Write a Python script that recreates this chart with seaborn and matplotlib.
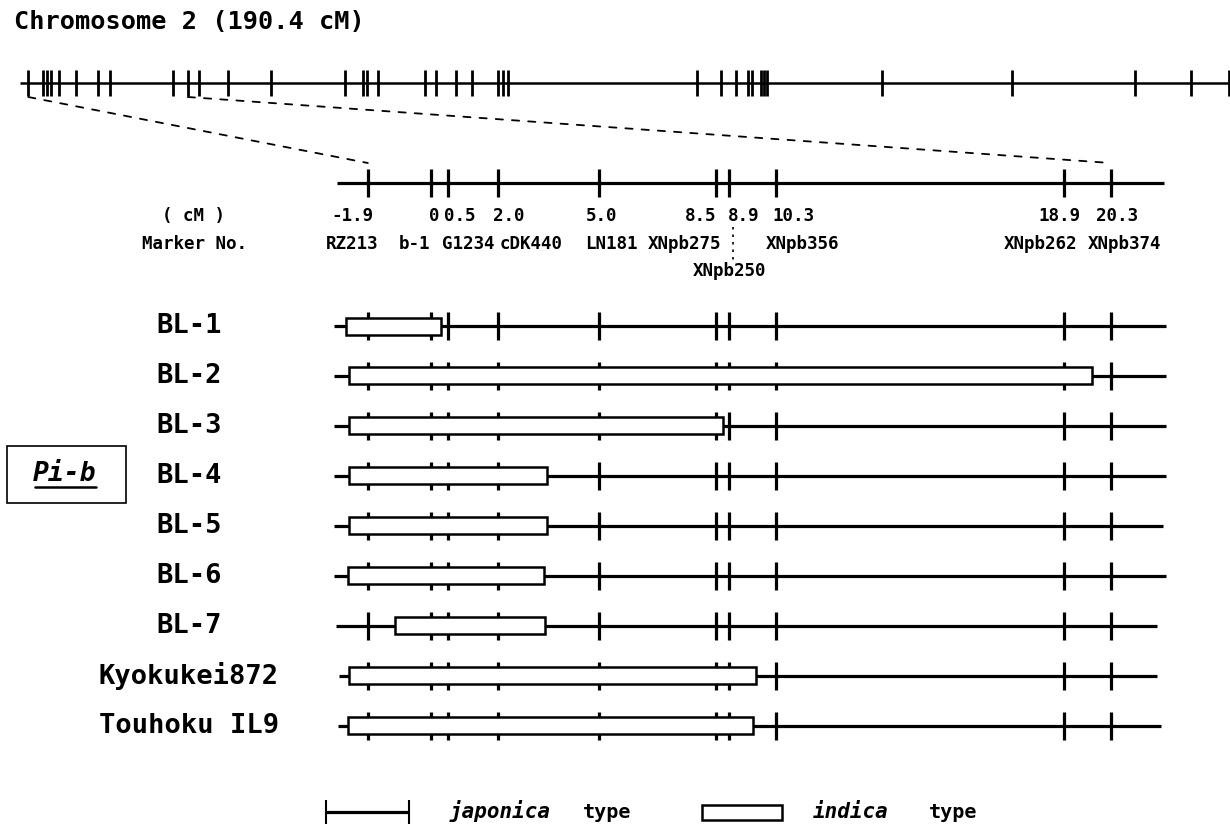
import matplotlib
matplotlib.use("Agg")
import matplotlib.pyplot as plt
from matplotlib.patches import Rectangle, ConnectionPatch
import seaborn as sns
import pandas as pd

# whole chromosome 2 (cM)
chrom_len = 190.4
chrom_markers = [1.3, 3.6, 4.3, 4.9, 6.1, 8.8, 12.3, 14.2, 24.1, 26.4, 28.2, 32.7, 39.5,
                 51.1, 54.0, 54.6, 56.3, 63.7, 65.5, 68.6, 71.1, 75.2, 76.0, 76.8,
                 106.5, 110.3, 112.7, 114.6, 115.2, 116.6, 117.1, 117.6,
                 135.6, 156.1, 175.5, 184.3, 190.2]

# enlarged region around Pi-b
marker_names = ["RZ213", "b-1", "G1234", "cDK440", "LN181", "XNpb275", "XNpb250",
                "XNpb356", "XNpb262", "XNpb374"]
marker_cm = [-1.9, 0, 0.5, 2.0, 5.0, 8.5, 8.9, 10.3, 18.9, 20.3]
cm_labels = ["-1.9", "0", "0.5", "2.0", "5.0", "8.5", "8.9", "10.3", "18.9", "20.3"]

# lines and their indica segments (cM)
lines = ["BL-1", "BL-2", "BL-3", "BL-4", "BL-5", "BL-6", "BL-7", "Kyokukei872", "Touhoku IL9"]
indica_start = [-2.55, -2.45, -2.45, -2.45, -2.45, -2.5, -1.1, -2.45, -2.5]
indica_end = [0.28, 19.75, 8.7, 3.45, 3.45, 3.37, 3.4, 9.7, 9.6]
line_start = [-2.9, -2.9, -2.9, -2.9, -2.9, -2.9, -2.85, -2.75, -2.8]
line_end = [21.95, 21.95, 21.95, 21.95, 21.85, 21.95, 21.7, 21.7, 21.8]

sns.set_theme(style="white")
plt.rcParams["font.family"] = ["DejaVu Sans Mono", "DejaVu Sans"]
plt.rcParams["font.weight"] = "bold"
plt.rcParams["text.color"] = "black"

W, H = 1230, 826
fig = plt.figure(figsize=(W / 100, H / 100), dpi=100)

# main axes: x in cM of the enlarged map, y in pixels from top
px0, pxcm = 431.4, 33.46
ax = fig.add_axes([0, 0, 1, 1])
ax.set_xlim(-px0 / pxcm, (W - px0) / pxcm)
ax.set_ylim(H, 0)
ax.axis("off")

# top axes: whole chromosome
ax_top = fig.add_axes([0, 0, 1, 1])
ax_top.set_xlim(-20 / 6.355, chrom_len)
ax_top.set_ylim(H, 0)
ax_top.axis("off")
ax_top.patch.set_alpha(0)

tx = ax.get_yaxis_transform()  # x axes fraction, y pixels

ax.text(14 / W, 22, "Chromosome 2 (190.4 cM)", transform=tx, fontsize=18.2,
        ha="left", va="center")

ax_top.hlines(83, 0, chrom_len, color="black", lw=1.8)
top_df = pd.DataFrame({"cM": chrom_markers, "y": 83})
sns.scatterplot(data=top_df, x="cM", y="y", marker="|", s=350, linewidth=2.0,
                color="black", ax=ax_top, legend=False, zorder=3)

# enlarged map
ax.hlines(183, -2.82, 21.9, color="black", lw=2.3)
map_df = pd.DataFrame({"cM": marker_cm, "y": 183})
sns.scatterplot(data=map_df, x="cM", y="y", marker="|", s=410, linewidth=2.3,
                color="black", ax=ax, legend=False, zorder=3)

for a_cm, b_cm in [(chrom_markers[0], marker_cm[0]), (chrom_markers[9], marker_cm[-1])]:
    con = ConnectionPatch(xyA=(a_cm, 97), coordsA=ax_top.transData,
                          xyB=(b_cm, 163), coordsB=ax.transData,
                          linestyle=(0, (4, 5)), lw=1.3, color="black")
    fig.add_artist(con)

num_x = [-2.37, 0.08, 0.85, 2.32, 5.10, 8.05, 9.34, 10.81, 18.76, 20.5]
name_x = [-2.37, -0.52, 1.09, 2.98, 5.37, 7.55, 8.92, 11.1, 18.19, 20.7]
for i in range(len(marker_cm)):
    ax.text(num_x[i], 216, cm_labels[i], fontsize=12.6, ha="center", va="center")
    ny = 271 if marker_names[i] == "XNpb250" else 244
    ax.text(name_x[i], ny, marker_names[i], fontsize=12.6, ha="center", va="center")
ax.vlines(9.01, 227, 261, color="black", lw=1.2, linestyles=(0, (1.5, 3)))
ax.text(194 / W, 216, "( cM )", transform=tx, fontsize=12.6, ha="center", va="center")
ax.text(194 / W, 244, "Marker No.", transform=tx, fontsize=12.6, ha="center", va="center")

# graphical genotypes
row_y = [326 + 49.95 * i for i in range(len(lines))]
ax.hlines(row_y, line_start, line_end, color="black", lw=2.3, zorder=1)
tick_df = pd.DataFrame([(m, y) for y in row_y for m in marker_cm], columns=["cM", "y"])
sns.scatterplot(data=tick_df, x="cM", y="y", marker="|", s=410, linewidth=2.3,
                color="black", ax=ax, legend=False, zorder=2)
for i, name in enumerate(lines):
    ax.add_patch(Rectangle((indica_start[i], row_y[i] - 8.5), indica_end[i] - indica_start[i], 17,
                           facecolor="white", edgecolor="black", lw=1.8, zorder=3))
    ax.text(189 / W, row_y[i], name, transform=tx, fontsize=19.5, ha="center", va="center")

# Pi-b box
ax.add_patch(Rectangle((7 / W, 446), 119 / W, 57, transform=tx, fill=False,
                       edgecolor="black", lw=1.2))
ax.text(65 / W, 474, "Pi-b", transform=tx, fontsize=19, style="italic",
        ha="center", va="center")
ax.plot([35 / W, 96 / W], [487, 487], transform=tx, color="black", lw=1.8)

# legend
ax.hlines(812, -3.15, -0.67, color="black", lw=2.3)
ax.vlines([-3.15, -0.67], 800, 824, color="black", lw=1.5)
ax.add_patch(Rectangle((8.09, 805), 2.39, 15, facecolor="white", edgecolor="black", lw=1.8))
ax.text(450 / W, 818, "japonica", transform=tx, fontsize=15, style="italic", ha="left", va="baseline")
ax.text(583 / W, 818, "type", transform=tx, fontsize=14.5, ha="left", va="baseline")
ax.text(813 / W, 818, "indica", transform=tx, fontsize=15, style="italic", ha="left", va="baseline")
ax.text(929 / W, 818, "type", transform=tx, fontsize=14.5, ha="left", va="baseline")

fig.savefig("out.png", dpi=100)
